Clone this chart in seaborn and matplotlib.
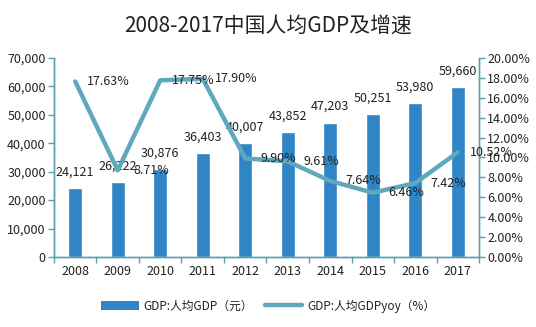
import matplotlib
matplotlib.use("Agg")
import matplotlib.pyplot as plt
import seaborn as sns
import pandas as pd
from matplotlib.ticker import FuncFormatter, FixedLocator
from matplotlib.patches import Patch
from matplotlib.lines import Line2D

years = ["2008", "2009", "2010", "2011", "2012", "2013", "2014", "2015", "2016", "2017"]
gdp_per_capita = [24121, 26222, 30876, 36403, 40007, 43852, 47203, 50251, 53980, 59660]
growth_pct = [17.63, 8.71, 17.75, 17.90, 9.90, 9.61, 7.64, 6.46, 7.42, 10.52]

title = "2008-2017中国人均GDP及增速"
bar_label = "GDP:人均GDP（元）"
line_label = "GDP:人均GDPyoy（%）"

sns.set_theme(style="white")
plt.rcParams["font.family"] = ["Noto Sans CJK SC", "DejaVu Sans"]

bar_color = "#2F85C5"
line_color = "#5FA8BE"
spine_color = "#5A9DB5"
text_color = "#222222"

df = pd.DataFrame({"year": years, "gdp": gdp_per_capita, "yoy": growth_pct})

fig = plt.figure(figsize=(5.36, 3.27), dpi=100)
ax = fig.add_axes([0.1007, 0.214, 0.7930, 0.609])
sns.barplot(data=df, x="year", y="gdp", color=bar_color, width=0.33,
            saturation=1, ax=ax)
ax2 = ax.twinx()
sns.lineplot(data=df, x="year", y="yoy", color=line_color, linewidth=3.2,
             ax=ax2, sort=False)

ax.set_xlim(-0.5, len(years) - 0.5)
ax.set_ylim(0, 70000)
ax2.set_ylim(0, 20)
ax.set_yticks(range(0, 70001, 10000))
ax2.set_yticks(range(0, 21, 2))
ax.yaxis.set_major_formatter(FuncFormatter(lambda v, p: f"{int(v):,}"))
ax2.yaxis.set_major_formatter(FuncFormatter(lambda v, p: f"{v:.2f}%"))
ax.set_xlabel("")
ax.set_ylabel("")
ax2.set_xlabel("")
ax2.set_ylabel("")

for a in (ax, ax2):
    a.grid(False)
    a.spines["top"].set_visible(False)
    for s in ("left", "right", "bottom"):
        a.spines[s].set_color(spine_color)
        a.spines[s].set_linewidth(1.0)
    a.patch.set_alpha(0)

ax.tick_params(axis="y", which="major", direction="out", length=4, width=1,
               color=spine_color, labelsize=9, labelcolor=text_color, pad=2, left=True)
ax2.tick_params(axis="y", which="major", direction="out", length=4, width=1,
                color=spine_color, labelsize=9, labelcolor=text_color, pad=2, right=True)
ax.tick_params(axis="x", which="major", length=0, labelsize=9,
               labelcolor=text_color, pad=6)
ax.xaxis.set_minor_locator(FixedLocator([i - 0.5 for i in range(len(years) + 1)]))
ax.tick_params(axis="x", which="minor", direction="out", length=4, width=1,
               color=spine_color, bottom=True)

for i, v in enumerate(gdp_per_capita):
    ax.annotate(f"{v:,}", (i, v), xytext=(0, 7), textcoords="offset points",
                ha="center", va="bottom", fontsize=9, color=text_color)
for i, v in enumerate(growth_pct):
    ax2.annotate(f"{v:.2f}%", (i, v), xytext=(24, 0), textcoords="offset points",
                 ha="center", va="center", fontsize=9, color=text_color)

fig.suptitle(title, x=0.5, y=0.955, fontsize=15, color=text_color)

handles = [Patch(facecolor=bar_color, edgecolor="none"),
           Line2D([0], [0], color=line_color, linewidth=3.2)]
fig.legend(handles, [bar_label, line_label], loc="center", ncol=2,
           bbox_to_anchor=(0.5, 0.064), frameon=False, fontsize=8.5,
           handlelength=3.2, handleheight=0.9, columnspacing=1.0,
           handletextpad=0.4, labelcolor=text_color)

fig.savefig("out.png", dpi=100, facecolor="white")
